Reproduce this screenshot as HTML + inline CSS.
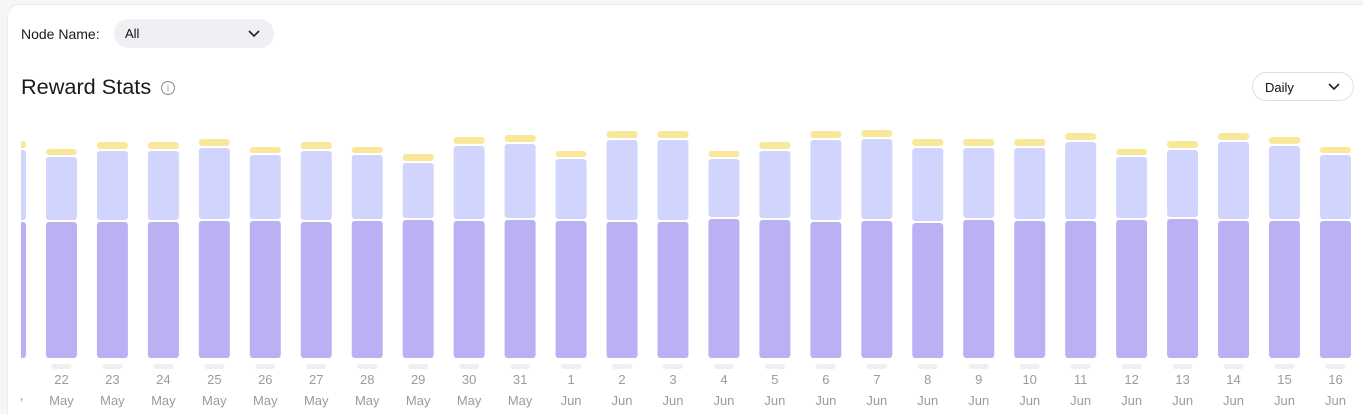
<!DOCTYPE html>
<html style="overflow:hidden;height:414px"><head><meta charset="utf-8"><style>
body{margin:0;width:1363px;height:414px;background:#f6f6f7;font-family:"Liberation Sans",sans-serif;overflow:hidden;position:relative}
.card{position:absolute;left:7px;top:4px;width:1380px;height:410px;background:#fff;border-radius:12px 12px 0 0;border:1px solid #ececec;border-bottom:none}
.lbl{position:absolute;left:21px;top:26px;font-size:14px;color:#1a1a1a}
.sel{position:absolute;left:114px;top:19px;width:160px;height:29px;background:#eff0f3;border-radius:15px}
.sel span{position:absolute;left:11px;top:7px;font-size:13px;color:#111}
.title{position:absolute;left:21px;top:74px;font-size:21.7px;color:#1a1a1a}
.info{position:absolute;left:161px;top:81px;width:12px;height:12px;border:1.3px solid #888;border-radius:50%;font-size:9px;color:#888;text-align:center;line-height:12px;font-family:"Liberation Serif",serif}
.daily{position:absolute;left:1252px;top:72px;width:100px;height:27px;border:1px solid #e0e0e0;border-radius:15px}
.daily span{position:absolute;left:12px;top:7px;font-size:13px;color:#111}
</style></head><body>
<div class="card"></div>
<div class="lbl">Node Name:</div>
<div class="sel"><span>All</span>
<svg style="position:absolute;left:134px;top:11px" width="12" height="8"><path d="M1 1L6 6L11 1" stroke="#222" stroke-width="1.6" fill="none"/></svg></div>
<div class="title">Reward Stats</div>
<div class="info">i</div>
<div class="daily"><span>Daily</span>
<svg style="position:absolute;left:75px;top:10px" width="12" height="8"><path d="M1 1L6 6L11 1" stroke="#222" stroke-width="1.6" fill="none"/></svg></div>
<svg id="chart" width="1363" height="414" style="position:absolute;left:0;top:0"></svg>
<script>
const days=["21","22","23","24","25","26","27","28","29","30","31","1","2","3","4","5","6","7","8","9","10","11","12","13","14","15","16"];
const months=["May","May","May","May","May","May","May","May","May","May","May","Jun","Jun","Jun","Jun","Jun","Jun","Jun","Jun","Jun","Jun","Jun","Jun","Jun","Jun","Jun","Jun"];
const baseReward=[136,136,136,136,137,137,136,137,138,137,138,137,136,136,139,138,136,137,135,138,137,137,138,139,137,137,137];
const bonusReward=[70,63,69,69,71,64,69,64,55,73,74,60,80,80,58,67,80,80,73,70,71,77,61,67,77,73,64];
const extraReward=[7,6,7,7,7,6,7,6,7,7,7,6,7,7,6,7,7,7,7,7,7,7,6,7,7,7,6];
const svg=document.getElementById('chart');const NS='http://www.w3.org/2000/svg';
const y0=358,scale=1,x0=-5,step=50.96,bw=31,gap=2;
const clip=document.createElementNS(NS,'clipPath');clip.setAttribute('id','c');
const cr=document.createElementNS(NS,'rect');cr.setAttribute('x',21);cr.setAttribute('y',0);cr.setAttribute('width',1342);cr.setAttribute('height',414);clip.appendChild(cr);svg.appendChild(clip);
const g=document.createElementNS(NS,'g');g.setAttribute('clip-path','url(#c)');svg.appendChild(g);
function rect(x,y,h,fill,name){const r=document.createElementNS(NS,'rect');r.setAttribute('x',x);r.setAttribute('y',y);r.setAttribute('width',bw);r.setAttribute('height',Math.max(h,0));r.setAttribute('rx',3);r.setAttribute('fill',fill);


g.appendChild(r);}
function txt(x,y,s,name){const t=document.createElementNS(NS,'text');t.setAttribute('x',x);t.setAttribute('y',y);t.setAttribute('text-anchor','middle');t.setAttribute('font-size','13');t.setAttribute('fill','#a09a94');t.setAttribute('font-family','Liberation Sans, sans-serif');t.textContent=s;


g.appendChild(t);}
days.forEach((d,i)=>{const x=x0+i*step;
let top=y0-baseReward[i]*scale;rect(x,top,baseReward[i]*scale,'#bab1f4','bar-base-'+i);
let h2=bonusReward[i]*scale;let t2=top-gap-h2;rect(x,t2,h2,'#d1d4fd','bar-bonus-'+i);
let h3=extraReward[i]*scale;let t3=t2-gap-h3;rect(x,t3,h3,'#f9e89a','bar-extra-'+i);
const p=document.createElementNS(NS,'rect');p.setAttribute('x',x+bw/2-10);p.setAttribute('y',364);p.setAttribute('width',20);p.setAttribute('height',5);p.setAttribute('rx',2.5);p.setAttribute('fill','#efefef');


g.appendChild(p);
txt(x+bw/2,384,d,'x-tick-day');txt(x+bw/2,405,months[i],'x-tick-month');});
</script>
</body></html>
